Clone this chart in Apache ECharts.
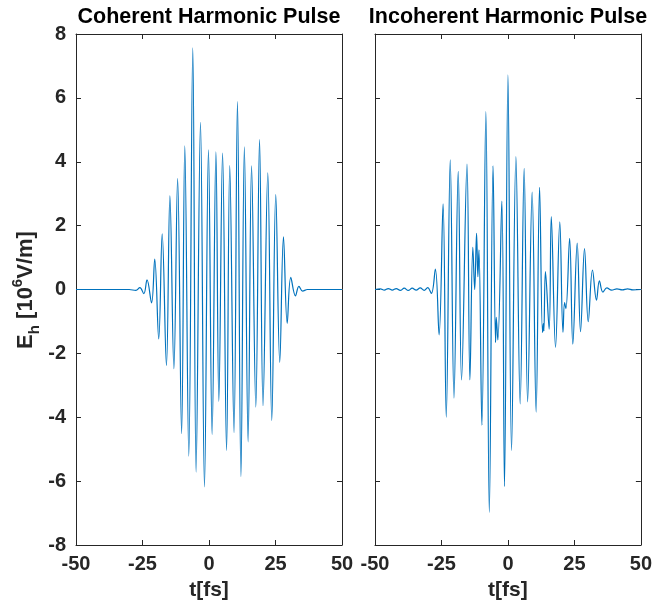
<!DOCTYPE html>
<html>
<head>
<meta charset="utf-8">
<script src="https://cdn.jsdelivr.net/npm/echarts@6/dist/echarts.min.js"></script>
<style>
html,body{margin:0;padding:0;background:#fff;}
#chart{width:655px;height:610px;}
</style>
</head>
<body>
<div id="chart"></div>
<script>
// ---- data ----
var panelTitles = ['Coherent Harmonic Pulse', 'Incoherent Harmonic Pulse'];
var xTicks = [-50, -25, 0, 25, 50];
var yTicks = [-8, -6, -4, -2, 0, 2, 4, 6, 8];
var xLabel = 't[fs]';

var coherentT = [-50, -30, -27.5, -26.0, -24.5, -23.3, -21.6, -20.4, -18.9, -17.6, -16.0, -14.7, -13.2,
  -11.8, -10.3, -9.1, -7.6, -6.1, -4.85, -3.2, -1.7, -0.2, 1.17,
  2.6, 3.7, 5.1, 6.6, 7.8, 9.4, 10.7, 12.0, 13.3, 14.7,
  16.0, 17.6, 19.0, 20.3, 22.1, 23.6, 25.1, 26.6, 28.0, 29.4,
  30.75, 32.5, 33.8, 35.2, 37, 50];
var coherentE = [0, 0, -0.03, 0.06, -0.13, 0.3, -0.42, 0.95, -1.55, 1.74, -2.38, 2.93, -2.48,
  3.47, -4.51, 4.5, -5.22, 7.57, -5.72, 5.23, -6.18, 4.37, -4.54,
  4.31, -3.5, 4.27, -5.04, 3.88, -4.48, 5.88, -5.86, 4.47, -4.77,
  3.87, -3.68, 4.69, -3.64, 3.65, -4.1, 2.97, -2.28, 1.65, -1.06,
  0.38, -0.2, 0.1, -0.05, 0, 0];

var incoherentT = [-50, -48, -46.5, -45, -43.5, -42, -40.5, -39, -37.5, -36, -34.5, -33, -31.5, -30.2,
  -28.8, -27.3, -25.9, -24.4, -23.2, -21.7, -20.3, -18.7, -17.45, -15.4, -14.3, -13.2, -12.5,
  -11.8, -11.3, -10.9, -9.8, -8.3, -7.0, -5.6, -4.65, -4.4, -3.8, -2.3, -1.3, 0.0,
  1.35, 3.0, 4.6, 6.1, 7.4, 9.1, 10.6, 11.9, 13.0, 13.3, 13.5, 14.1, 15.5, 16.3, 17.9,
  19.5, 20.7, 21.3, 21.8, 23.2, 24.4, 26.05, 27.3, 28.8, 30.2, 31.8, 33.3, 34.4, 35.7,
  37.2, 39, 41, 43, 45, 47, 50];
var incoherentE = [0, 0.02, -0.02, 0.03, -0.02, 0.03, -0.03, 0.04, -0.03, 0.04, -0.02, 0.05, -0.03, 0.06,
  -0.12, 0.64, -1.42, 2.68, -4.0, 4.06, -3.4, 3.7, -2.83, 3.93, -2.83, 1.32, 0.0,
  1.76, 0.4, 1.24, -4.25, 5.57, -6.98, 3.87, -1.66, -0.87, -1.58, 2.77, -6.17, 6.72,
  -5.04, 4.16, -3.58, 3.79, -3.52, 3.05, -3.84, 3.2, -1.35, -1.07, -1.3, 0.56, -1.24, 2.28, -1.81,
  2.12, -1.34, -0.41, -0.6, 1.6, -1.71, 1.45, -1.32, 1.28, -1.01, 0.61, -0.33, 0.27, -0.08,
  0.05, -0.02, 0.02, -0.01, 0.02, -0.01, 0];

// ---- build chart ----
function zip(a, b) { var r = []; for (var i = 0; i < Math.min(a.length, b.length); i++) r.push([a[i], b[i]]); return r; }

var AX = '#262626';
var FONT = '"Liberation Sans", Arial, Helvetica, sans-serif';
var grids = [
  {left: 76, right: 313, top: 34, bottom: 65},
  {left: 375, right: 14, top: 34, bottom: 65}
];
var xMin = xTicks[0], xMax = xTicks[xTicks.length - 1], xInt = xTicks[1] - xTicks[0];
var yMin = yTicks[0], yMax = yTicks[yTicks.length - 1], yInt = yTicks[1] - yTicks[0];

var xAxes = [], yAxes = [], series = [];
var datasets = [zip(coherentT, coherentE), zip(incoherentT, incoherentE)];
for (var g = 0; g < 2; g++) {
  ['bottom', 'top'].forEach(function (pos) {
    xAxes.push({
      gridIndex: g, type: 'value', position: pos, min: xMin, max: xMax, interval: xInt,
      axisLine: {show: true, onZero: false, lineStyle: {color: AX, width: 1}},
      axisTick: {show: true, inside: true, length: 5, lineStyle: {color: AX}},
      axisLabel: {show: pos === 'bottom', color: AX, fontSize: 20, fontWeight: 'bold', fontFamily: FONT, margin: 9},
      splitLine: {show: false},
      name: pos === 'bottom' ? xLabel : '', nameLocation: 'middle', nameGap: 35,
      nameTextStyle: {color: AX, fontSize: 21, fontWeight: 'bold', fontFamily: FONT}
    });
  });
  ['left', 'right'].forEach(function (pos) {
    yAxes.push({
      gridIndex: g, type: 'value', position: pos, min: yMin, max: yMax, interval: yInt,
      axisLine: {show: true, onZero: false, lineStyle: {color: AX, width: 1}},
      axisTick: {show: true, inside: true, length: 5, lineStyle: {color: AX}},
      axisLabel: {show: (g === 0 && pos === 'left'), color: AX, fontSize: 20, fontWeight: 'bold', fontFamily: FONT, margin: 10},
      splitLine: {show: false}
    });
  });
  series.push({
    type: 'line', xAxisIndex: g * 2, yAxisIndex: g * 2, data: datasets[g],
    showSymbol: false, symbol: 'none', smooth: 0.4,
    lineStyle: {color: '#0072BD', width: 1.2}, silent: true
  });
}

var chart = echarts.init(document.getElementById('chart'), null, {renderer: 'canvas'});
chart.setOption({
  animation: false,
  backgroundColor: '#fff',
  grid: grids,
  xAxis: xAxes,
  yAxis: yAxes,
  series: series,
  graphic: [
    {type: 'text', x: 209, y: 17, style: {text: panelTitles[0], font: 'bold 21.5px ' + FONT, fill: '#000', align: 'center', verticalAlign: 'middle'}},
    {type: 'text', x: 508, y: 17, style: {text: panelTitles[1], font: 'bold 21.5px ' + FONT, fill: '#000', align: 'center', verticalAlign: 'middle'}},
    {type: 'text', x: 26, y: 290, rotation: Math.PI / 2,
      style: {
        text: '{b|E}{s|h}{b| [10}{p|6}{b|V/m]}',
        align: 'center', verticalAlign: 'middle',
        rich: {
          b: {fontSize: 22, fontWeight: 'bold', fontFamily: FONT, fill: AX, color: AX, lineHeight: 32, verticalAlign: 'middle'},
          s: {fontSize: 15, fontWeight: 'bold', fontFamily: FONT, fill: AX, color: AX, lineHeight: 15, verticalAlign: 'bottom'},
          p: {fontSize: 15, fontWeight: 'bold', fontFamily: FONT, fill: AX, color: AX, lineHeight: 15, verticalAlign: 'top'}
        }
      }
    }
  ]
});
</script>
</body>
</html>
